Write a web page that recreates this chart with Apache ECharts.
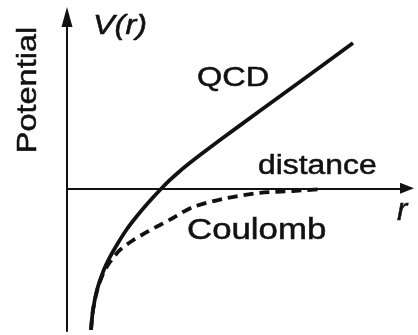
<!DOCTYPE html>
<html>
<head>
<meta charset="utf-8">
<script src="https://cdn.jsdelivr.net/npm/echarts@6/dist/echarts.min.js"></script>
<style>
  html, body { margin: 0; padding: 0; background: #fff; }
  #chart { width: 418px; height: 335px; }
</style>
</head>
<body>
<div id="chart"></div>
<script>
// Distance r (arbitrary units) and potential V(r) sampled along each curve
const qcdR = [0.706, 0.765, 0.882, 1.059, 1.265, 1.500, 1.765, 2.059, 2.382, 2.735, 3.029, 3.324, 3.618, 3.912, 4.500, 5.676, 6.853, 8.412];
const qcdV = [-4.964, -4.264, -3.563, -2.932, -2.407, -1.916, -1.426, -0.971, -0.515, -0.060, 0.291, 0.606, 0.893, 1.167, 1.692, 2.715, 3.734, 5.090];

const coulombR = [0.706, 0.765, 0.882, 1.059, 1.265, 1.559, 1.912, 2.353, 2.735, 3.118, 3.706, 4.706, 5.676, 6.647, 7.529];
const coulombV = [-4.964, -4.264, -3.598, -3.002, -2.582, -2.162, -1.846, -1.531, -1.286, -1.041, -0.655, -0.340, -0.165, -0.095, -0.025];

// Axis extents
const rMin = 0, rMax = 10;
const vMin = -5, vMax = 6;

const pairs = (xs, ys) => xs.map((x, i) => [x, ys[i]]);

const ink = '#111';
const face = '"Liberation Sans", Arial, Helvetica, sans-serif';

const chart = echarts.init(document.getElementById('chart'), null, { renderer: 'canvas' });

function label(text, x, y, size, opts) {
  opts = opts || {};
  return {
    type: 'text',
    x: x, y: y,
    rotation: opts.rotation || 0,
    scaleX: opts.scaleX || 1,
    z: 10,
    style: {
      text: text,
      fill: ink,
      stroke: ink,
      lineWidth: 0.5,
      font: (opts.italic ? 'italic ' : '') + size + 'px ' + face,
      align: opts.align || 'left',
      verticalAlign: 'middle'
    }
  };
}

chart.setOption({
  animation: false,
  backgroundColor: '#fff',
  grid: { left: 67, right: 11, top: 17, bottom: 4, containLabel: false },
  xAxis: {
    type: 'value', min: rMin, max: rMax,
    axisLine: {
      onZero: true,
      lineStyle: { color: ink, width: 2 },
      symbol: ['none', 'triangle'],
      symbolSize: [11, 14]
    },
    axisTick: { show: false }, axisLabel: { show: false }, splitLine: { show: false }
  },
  yAxis: {
    type: 'value', min: vMin, max: vMax,
    axisLine: {
      onZero: false,
      lineStyle: { color: ink, width: 2 },
      symbol: ['none', 'triangle'],
      symbolSize: [11, 20]
    },
    axisTick: { show: false }, axisLabel: { show: false }, splitLine: { show: false }
  },
  series: [
    {
      name: 'QCD', type: 'line', data: pairs(qcdR, qcdV),
      smooth: 0.3, showSymbol: false,
      lineStyle: { color: ink, width: 3.8 }, z: 3
    },
    {
      name: 'Coulomb', type: 'line', data: pairs(coulombR, coulombV),
      smooth: 0.3, showSymbol: false,
      lineStyle: { color: ink, width: 3.8, type: [10, 6] }, z: 2
    }
  ],
  graphic: [
    label('V(r)', 93, 26, 27, { italic: true, scaleX: 1.2 }),
    label('Potential', 28, 90, 28, { rotation: Math.PI / 2, align: 'center', scaleX: 1.16 }),
    label('QCD', 197, 78, 28, { scaleX: 1.16 }),
    label('distance', 258, 167, 27, { scaleX: 1.18 }),
    label('Coulomb', 187, 231, 29, { scaleX: 1.2 }),
    label('r', 397, 211, 31, { italic: true })
  ]
});
</script>
</body>
</html>
